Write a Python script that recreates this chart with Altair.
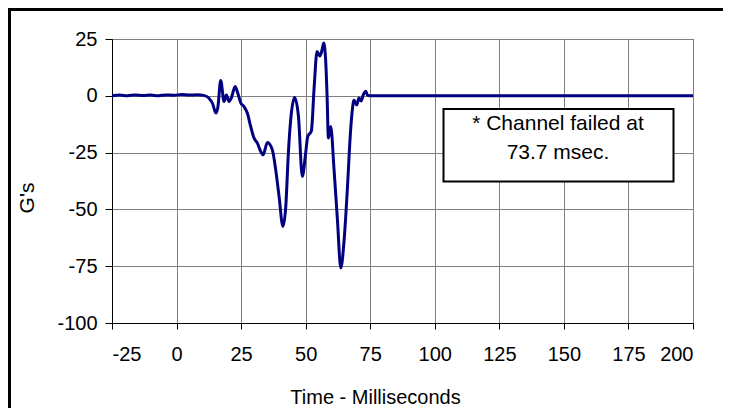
import altair as alt
import pandas as pd

# Time (ms) and acceleration (G's)
time_ms = [-25, -22, -19, -16, -13, -10, -7, -4, -1, 2, 5, 8, 10.5, 12.5, 14, 15.2, 16,
           17.1, 18.4, 19.3, 20.3, 21.2, 22.7, 23.5, 24.9, 26.1, 27.4, 28.7, 30.0, 31.3,
           32.6, 33.5, 35.2, 37.1, 38.4, 39.7, 41.2, 42.3, 43.3, 44.2, 45.7, 47.2, 48.7,
           50.0, 50.8, 52.2, 53.3, 54.4, 55.5, 56.3, 57.0, 57.8, 58.3, 58.8, 59.7, 61.0,
           62.3, 63.6, 64.9, 66.2, 67.3, 68.0, 68.7, 69.8, 70.6, 71.5, 72.3, 73.3, 73.9,
           75, 100, 125, 150, 175, 200]
g_vals = [0.0, 0.3, 0.0, 0.4, 0.1, 0.3, 0.0, 0.4, 0.2, 0.6, 0.3, 0.5, 0.2, -1.0, -3.5,
          -7.6, -5.0, 6.7, -2.5, 0.4, -2.5, -1.0, 4.1, 1.9, -3.2, -4.7, -7.6, -13.5,
          -18.6, -20.8, -24.5, -26.0, -20.5, -23.8, -32.6, -44.3, -57.5, -48.7, -25.2,
          -10.6, -0.8, -9.0, -35.5, -25.2, -17.9, -15.5, 4.0, 19.5, 17.5, 20.0, 23.2,
          14.4, -0.3, -18.6, -13.5, -32.6, -54.6, -75.8, -63.4, -39.9, -17.0, -7.0, -2.0,
          -4.0, -1.0, -2.3, 0.4, 2.0, 0.3, 0.0, 0.0, 0.0, 0.0, 0.0, 0.0]

x_ticks = [-25, 0, 25, 50, 75, 100, 125, 150, 175, 200]
y_ticks = [25, 0, -25, -50, -75, -100]
note_lines = ["* Channel failed at", "73.7 msec."]

df = pd.DataFrame({"t": time_ms, "g": g_vals})

W, H = 581, 284
NARROW = "Liberation Sans Narrow, Arial Narrow, Liberation Sans, sans-serif"
REG = "Liberation Sans, Arial, sans-serif"

line = alt.Chart(df).mark_line(color="#000080", strokeWidth=3, interpolate="monotone").encode(
    x=alt.X("t:Q",
            scale=alt.Scale(domain=[-25, 200], nice=False, zero=False),
            axis=alt.Axis(values=x_ticks, title="Time - Milliseconds", labelFont=NARROW,
                          labelFontSize=20, tickSize=6, labelPadding=15,
                          labelExpr="'' + datum.value",
                          titleFont=NARROW, titleFontSize=20, titleFontWeight="normal",
                          titleX=263, titleY=74, titleBaseline="middle", titleAlign="center")),
    y=alt.Y("g:Q",
            scale=alt.Scale(domain=[-100, 25], nice=False, zero=False),
            axis=alt.Axis(values=y_ticks, title="G's", labelFont=NARROW, labelFontSize=20,
                          labelExpr="'' + datum.value",
                          tickSize=7, labelPadding=8, titleFont=REG, titleFontSize=21,
                          titleFontWeight="normal", titleAngle=-90, titleX=-84.5,
                          titleY=158.5, titleBaseline="middle", titleAlign="center")),
)

box = alt.Chart(pd.DataFrame({"a": [0]})).mark_rect(
    fill="white", stroke="black", strokeWidth=2
).encode(x=alt.value(331.5), x2=alt.value(561.5), y=alt.value(70), y2=alt.value(142.5))

note_df = pd.DataFrame({"txt": note_lines, "row": [0, 1]})
note = alt.Chart(note_df).mark_text(
    font=REG, fontSize=21, align="center", baseline="middle", color="black"
).encode(
    x=alt.value(446),
    y=alt.Y("row:Q", scale=alt.Scale(domain=[0, 1], range=[84.5, 113.5]), axis=None),
    text="txt:N",
)

frame_top = alt.Chart(pd.DataFrame({"a": [0]})).mark_rule(color="black", strokeWidth=3).encode(
    x=alt.value(-104), x2=alt.value(W + 30), y=alt.value(-29.5))
frame_left = alt.Chart(pd.DataFrame({"a": [0]})).mark_rule(color="black", strokeWidth=3).encode(
    x=alt.value(-102.5), y=alt.value(-31), y2=alt.value(H + 85))

chart = alt.layer(line, box, note, frame_top, frame_left).resolve_scale(y="independent").properties(
    width=W, height=H,
    autosize=alt.AutoSizeParams(type="none"),
    padding={"left": 104, "top": 31, "right": 30, "bottom": 85},
    background="white",
).configure_view(stroke="black", strokeWidth=1).configure_axis(
    domainColor="black", tickColor="black", gridColor="#808080", gridWidth=1,
    labelColor="black", titleColor="black", domainWidth=1, tickWidth=1, gridOpacity=1,
)

chart.save("out.html", embed_options={"renderer": "svg", "actions": False})
